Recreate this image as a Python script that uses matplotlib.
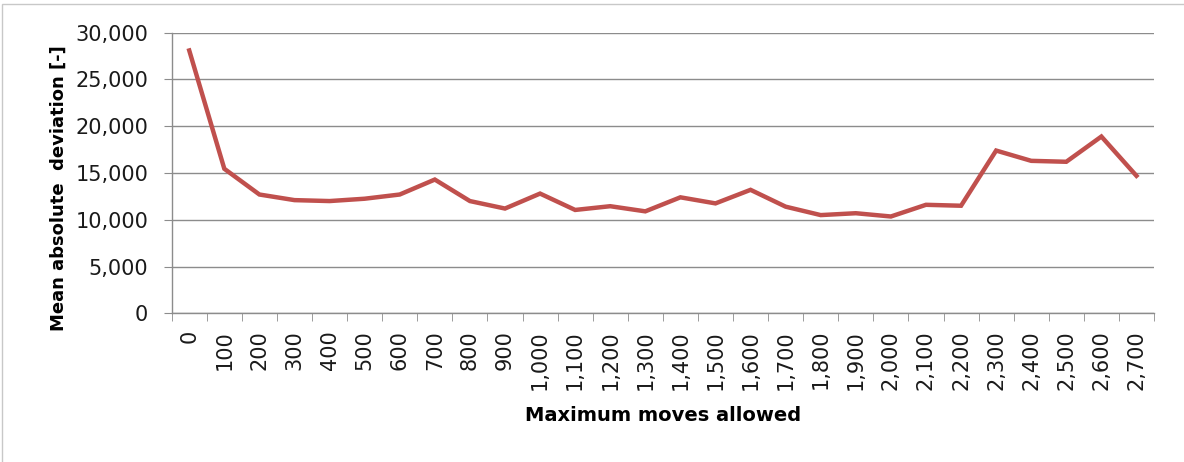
import matplotlib
matplotlib.use("Agg")
import matplotlib.pyplot as plt
from matplotlib.patches import Rectangle

plt.rcParams['font.family'] = ['DejaVu Sans']

# maximum moves allowed (x categories) and mean absolute deviation
moves = [0, 100, 200, 300, 400, 500, 600, 700, 800, 900, 1000, 1100, 1200, 1300,
         1400, 1500, 1600, 1700, 1800, 1900, 2000, 2100, 2200, 2300, 2400, 2500,
         2600, 2700]
deviation = [28100, 15450, 12700, 12100, 12000, 12250, 12700, 14300, 12000, 11200,
             12800, 11050, 11450, 10900, 12400, 11750, 13200, 11400, 10500, 10700,
             10350, 11600, 11500, 17400, 16300, 16200, 18900, 14700]
y_ticks = [0, 5000, 10000, 15000, 20000, 25000, 30000]

W, H = 1184, 462
fig = plt.figure(figsize=(W / 100, H / 100), dpi=100)
ax = fig.add_axes([171.7 / W, 1 - 313.3 / H, (1154 - 171.7) / W, (313.3 - 32.7) / H])

# outer chart frame (cropped on the right and bottom)
fig.patches.append(Rectangle((2 / W, -0.5), 2, 1.5 - 4 / H, transform=fig.transFigure,
                             fill=False, edgecolor='#c8c8c8', linewidth=1))

xs = list(range(len(moves)))
ax.plot(xs, deviation, color='#c0504d', linewidth=3.2, solid_joinstyle='miter')

ax.set_xlim(-0.5, len(moves) - 0.5)
ax.set_ylim(0, 30000)
ax.set_yticks(y_ticks)
ax.set_yticklabels([f"{v:,}" for v in y_ticks])
ax.yaxis.grid(True, color='#8c8c8c', linewidth=1)
ax.set_axisbelow(True)

ax.set_xticks(xs)
ax.set_xticklabels([f"{m:,}" for m in moves], rotation=90)
ax.set_xticks([x - 0.5 for x in xs] + [len(moves) - 0.5], minor=True)
ax.tick_params(axis='x', which='major', length=0, pad=12)
ax.tick_params(axis='x', which='minor', length=6, color='#8c8c8c', direction='out')
ax.tick_params(axis='y', length=6, color='#8c8c8c', direction='out', pad=11)
ax.tick_params(labelsize=15, labelcolor='#1a1a1a')

for s in ['top', 'right']:
    ax.spines[s].set_visible(False)
for s in ['left', 'bottom']:
    ax.spines[s].set_color('#8c8c8c')
    ax.spines[s].set_linewidth(1)

ax.set_xlabel('Maximum moves allowed', fontsize=14, fontweight='bold', labelpad=12)
ax.set_ylabel('Mean absolute  deviation [-]', fontsize=13, fontweight='bold')
ax.yaxis.set_label_coords(-0.106, 0.447)

fig.savefig('out.png', dpi=100)
